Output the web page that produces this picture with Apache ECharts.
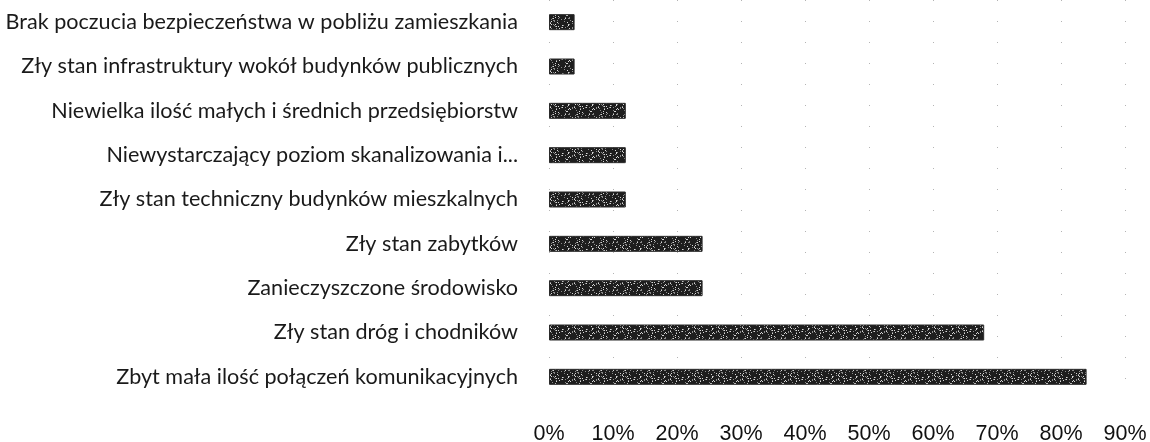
<!DOCTYPE html>
<html>
<head>
<meta charset="utf-8">
<style>
  html, body { margin: 0; padding: 0; background: #fff; }
  #chart { width: 1150px; height: 442px; }
</style>
<script src="https://cdn.jsdelivr.net/npm/echarts@6/dist/echarts.min.js"></script>
</head>
<body>
<div id="chart"></div>
<script>
// Problems named by respondents, share of answers (%)
const categories = [
  'Brak poczucia bezpieczeństwa w pobliżu zamieszkania',
  'Zły stan infrastruktury wokół budynków publicznych',
  'Niewielka ilość małych i średnich przedsiębiorstw',
  'Niewystarczający poziom skanalizowania i...',
  'Zły stan techniczny budynków mieszkalnych',
  'Zły stan zabytków',
  'Zanieczyszczone środowisko',
  'Zły stan dróg i chodników',
  'Zbyt mała ilość połączeń komunikacyjnych'
];
const shares = [4, 4, 12, 12, 12, 24, 24, 68, 84];
const xTicks = { min: 0, max: 90, step: 10 };

// Speckled dark fill for the bars (fixed, repeatable texture)
function speckleTexture() {
  const c = document.createElement('canvas');
  c.width = 24; c.height = 16;
  const g = c.getContext('2d');
  g.fillStyle = '#1e1e1e';
  g.fillRect(0, 0, c.width, c.height);
  let h = 7;
  for (let y = 0; y < c.height; y++) {
    for (let x = 0; x < c.width; x++) {
      h = (h * 1103515245 + 12345) & 0x7fffffff;
      const v = (h >> 16) % 100;
      if (v < 16) {
        g.fillStyle = v < 6 ? '#d8d8d8' : '#8a8a8a';
        g.fillRect(x, y, 1, 1);
      }
    }
  }
  return c;
}

const chart = echarts.init(document.getElementById('chart'), null, { renderer: 'canvas' });
chart.setOption({
  animation: false,
  backgroundColor: '#ffffff',
  grid: {
    left: 549, right: 25, top: 0, bottom: 43,
    containLabel: false,
    outerBoundsMode: 'none'
  },
  xAxis: {
    type: 'value',
    min: xTicks.min,
    max: xTicks.max,
    interval: xTicks.step,
    axisLine: { show: false },
    axisTick: { show: false },
    axisLabel: {
      formatter: '{value}%',
      margin: 24,
      color: '#111',
      fontFamily: 'Liberation Sans, Arial, sans-serif',
      fontSize: 21.5
    },
    splitLine: {
      show: true,
      lineStyle: { color: '#b4b4b4', width: 1, type: [1, 20] }
    }
  },
  yAxis: {
    type: 'category',
    inverse: true,
    data: categories,
    axisLine: { show: false },
    axisTick: { show: false },
    axisLabel: {
      margin: 31,
      color: '#1a1a1a',
      fontFamily: 'Lato, sans-serif',
      fontSize: 21.6
    }
  },
  series: [{
    type: 'bar',
    data: shares,
    barWidth: 16,
    itemStyle: {
      color: { image: speckleTexture(), repeat: 'repeat' },
      borderColor: '#2a2a2a',
      borderWidth: 1
    }
  }]
});
</script>
</body>
</html>
